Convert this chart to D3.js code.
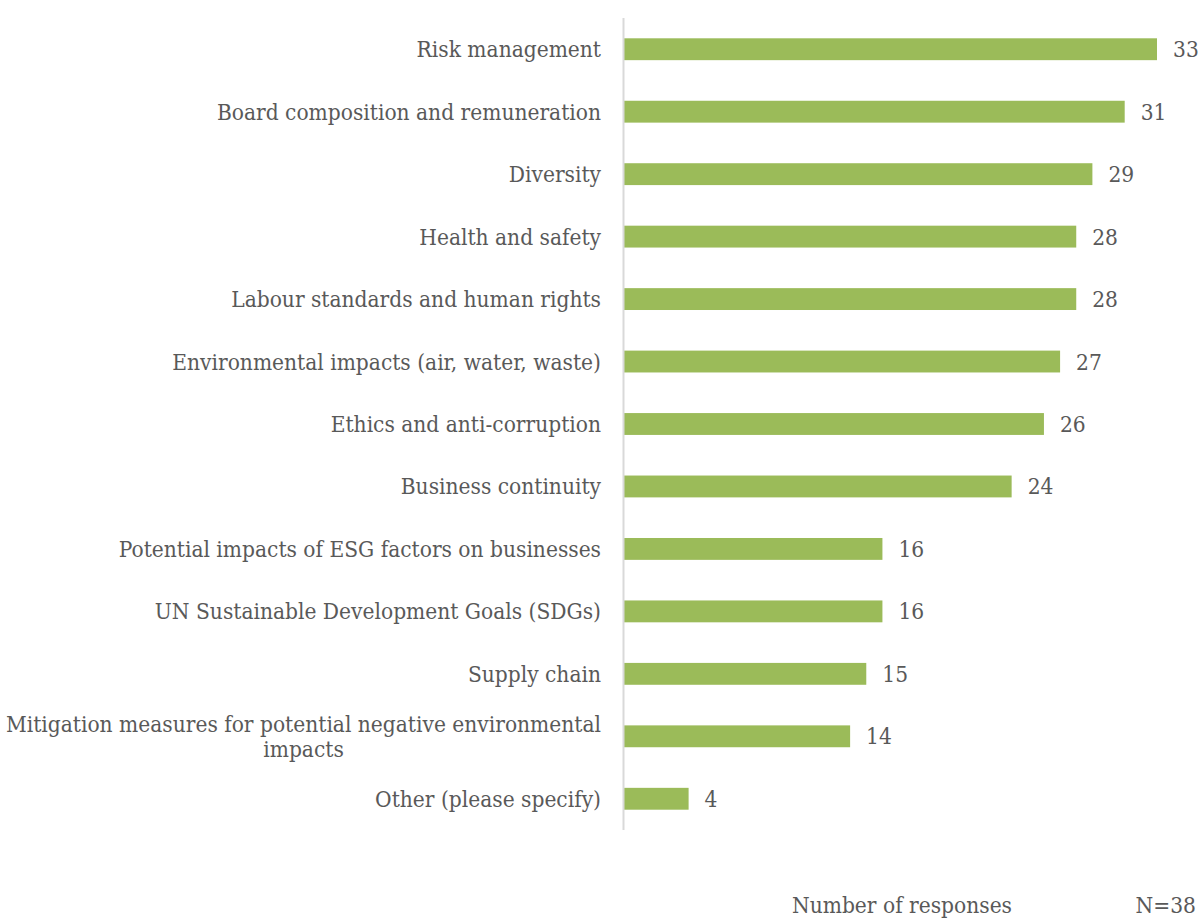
<!DOCTYPE html>
<html>
<head>
<meta charset="utf-8">
<script src="https://cdn.jsdelivr.net/npm/d3@7"></script>
<style>
  body { margin: 0; background: #fff; }
  text { font-family: "DejaVu Serif Condensed", "Liberation Serif", serif; fill: #595959; }
</style>
</head>
<body>
<svg width="1201" height="920"></svg>
<script>
var svg = d3.select('svg');

var categories = [
  "Risk management",
  "Board composition and remuneration",
  "Diversity",
  "Health and safety",
  "Labour standards and human rights",
  "Environmental impacts (air, water, waste)",
  "Ethics and anti-corruption",
  "Business continuity",
  "Potential impacts of ESG factors on businesses",
  "UN Sustainable Development Goals (SDGs)",
  "Supply chain",
  "Mitigation measures for potential negative environmental|impacts",
  "Other (please specify)"
];
var responses = [33, 31, 29, 28, 28, 27, 26, 24, 16, 16, 15, 14, 4];

var x0 = 624;
var x = d3.scaleLinear().domain([0, 33]).range([x0, 1157]);
var y = d3.scaleBand().domain(categories).range([18, 830]).paddingInner(0.65).paddingOuter(0.325);

// bars
svg.selectAll('rect')
  .data(categories)
  .enter()
  .append('rect')
  .attr('x', x(0))
  .attr('y', function(d){ return y(d); })
  .attr('width', function(d, i){ return x(responses[i]) - x(0); })
  .attr('height', y.bandwidth())
  .attr('fill', '#9bbb59');

// axis line
svg.append('line')
  .attr('x1', x0 - 0.5).attr('x2', x0 - 0.5)
  .attr('y1', 18).attr('y2', 830)
  .attr('stroke', '#d9d9d9').attr('stroke-width', 2);

// category labels
svg.selectAll('.cat')
  .data(categories)
  .enter()
  .append('text')
  .attr('class', 'cat')
  .style('font-size', '22.5px')
  .each(function(d){
    var lines = d.split('|');
    var t = d3.select(this);
    var cy = y(d) + y.bandwidth() / 2;
    var start = cy - (lines.length - 1) * 12.5 + 8;
    var spans = lines.map(function(l, k){
      return t.append('tspan')
        .attr('y', start + k * 25)
        .text(l);
    });
    if (lines.length > 1) {
      var w = spans[0].node().getComputedTextLength();
      var mid = 601 - w / 2;
      spans.forEach(function(s){ s.attr('x', mid).attr('text-anchor', 'middle'); });
    } else {
      spans[0].attr('x', 601).attr('text-anchor', 'end');
    }
  });

// value labels
svg.selectAll('.val')
  .data(categories)
  .enter()
  .append('text')
  .attr('class', 'val')
  .attr('x', function(d, i){ return x(responses[i]) + 16; })
  .attr('y', function(d){ return y(d) + y.bandwidth() / 2 + 8; })
  .style('font-size', '22.5px')
  .text(function(d, i){ return responses[i]; });

svg.append('text')
  .attr('x', 902).attr('y', 913)
  .attr('text-anchor', 'middle')
  .style('font-size', '22.5px')
  .text('Number of responses');

svg.append('text')
  .attr('x', 1196).attr('y', 913)
  .attr('text-anchor', 'end')
  .style('font-size', '22.5px')
  .text('N=38');
</script>
</body>
</html>
